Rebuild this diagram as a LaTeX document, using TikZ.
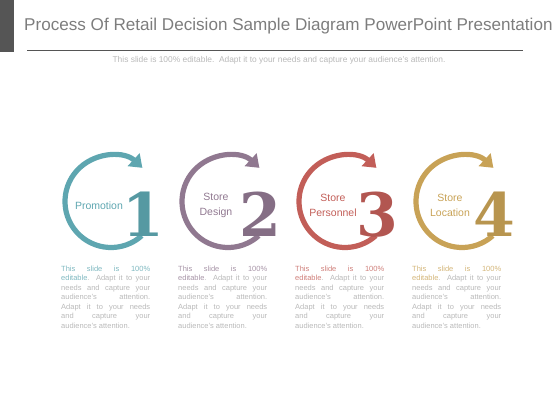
\documentclass[tikz,border=0pt]{standalone}
\usepackage{fontspec}
\setmainfont{Liberation Sans}
\newfontfamily\numfont{DejaVu Serif}
\usetikzlibrary{arrows.meta,calc,positioning}
\definecolor{barcol}{RGB}{85,85,85}
\definecolor{titlecol}{RGB}{125,125,125}
\definecolor{promocol}{RGB}{94,166,176}
\definecolor{designcol}{RGB}{144,120,144}
\definecolor{staffcol}{RGB}{194,94,88}
\definecolor{placecol}{RGB}{200,162,86}
\tikzset{
	every node/.style={
		font=\fontsize{7.5}{9.5}\selectfont,
		inner sep=0pt
	},
	heading/.style={
		font=\fontsize{17.1}{20}\selectfont,
		text=titlecol,
		anchor=base west
	},
	subheading/.style={
		font=\fontsize{8.4}{10}\selectfont,
		text=gray!55
	},
	ring/.style={
		line width=5.2pt,
		-{Triangle[width=17pt,length=12pt]}
	},
	digit/.style={
		font=\fontsize{60}{60}\numfont\bfseries
	},
	steplabel/.style={
		font=\fontsize{10.5}{14.5}\selectfont,
		align=center
	},
	blurb/.style={
		text width=89pt,
		align=justify,
		anchor=north west,
		text=gray!55
	}
}

\begin{document}
\begin{tikzpicture}[x=1pt,y=1pt]
	\useasboundingbox (0,0) rectangle (560,-420);
	
	% header
	\fill[barcol] (0,0) rectangle (14,-52);
	\node[heading] (title) at (24,-31) {Process Of Retail Decision Sample Diagram PowerPoint Presentation};
	\coordinate (ruleL) at (27,-51);
	\coordinate (ruleR) at (523,-51);
	\draw[barcol, line width=1pt] (ruleL) -- (ruleR);
	\node[subheading] (subtitle) at (279,-60) {This slide is 100\% editable.\ \ Adapt it to your needs and capture your audience's attention.};
	
	% steps
	\foreach \i/\col/\txt in {1/promocol/Promotion, 2/designcol/Store\\Design, 3/staffcol/Store\\Personnel, 4/placecol/Store\\Location}{
		\coordinate (c\i) at ({111+117*(\i-1)},-201.5);
		\draw[ring, draw=\col] ($(c\i)+(-48:46)$) arc[start angle=-48, end angle=-313, radius=46];
		\node[digit, text=\col!92!black] (num\i) at ($(c\i)+(32,-13)$) {\i};
		\node[steplabel, text=\col] (lab\i) at ($(c\i)+(-12,-4)$) {\txt};
		\node[blurb] (blurb\i) at ($(c\i)+(-50,-64)$) {{\color{\col!80}This slide is 100\%\linebreak editable}. Adapt it to your\linebreak needs and capture your\linebreak audience's attention.\linebreak Adapt it to your needs\linebreak and capture your\linebreak audience's attention.};
	}
\end{tikzpicture}
\end{document}
